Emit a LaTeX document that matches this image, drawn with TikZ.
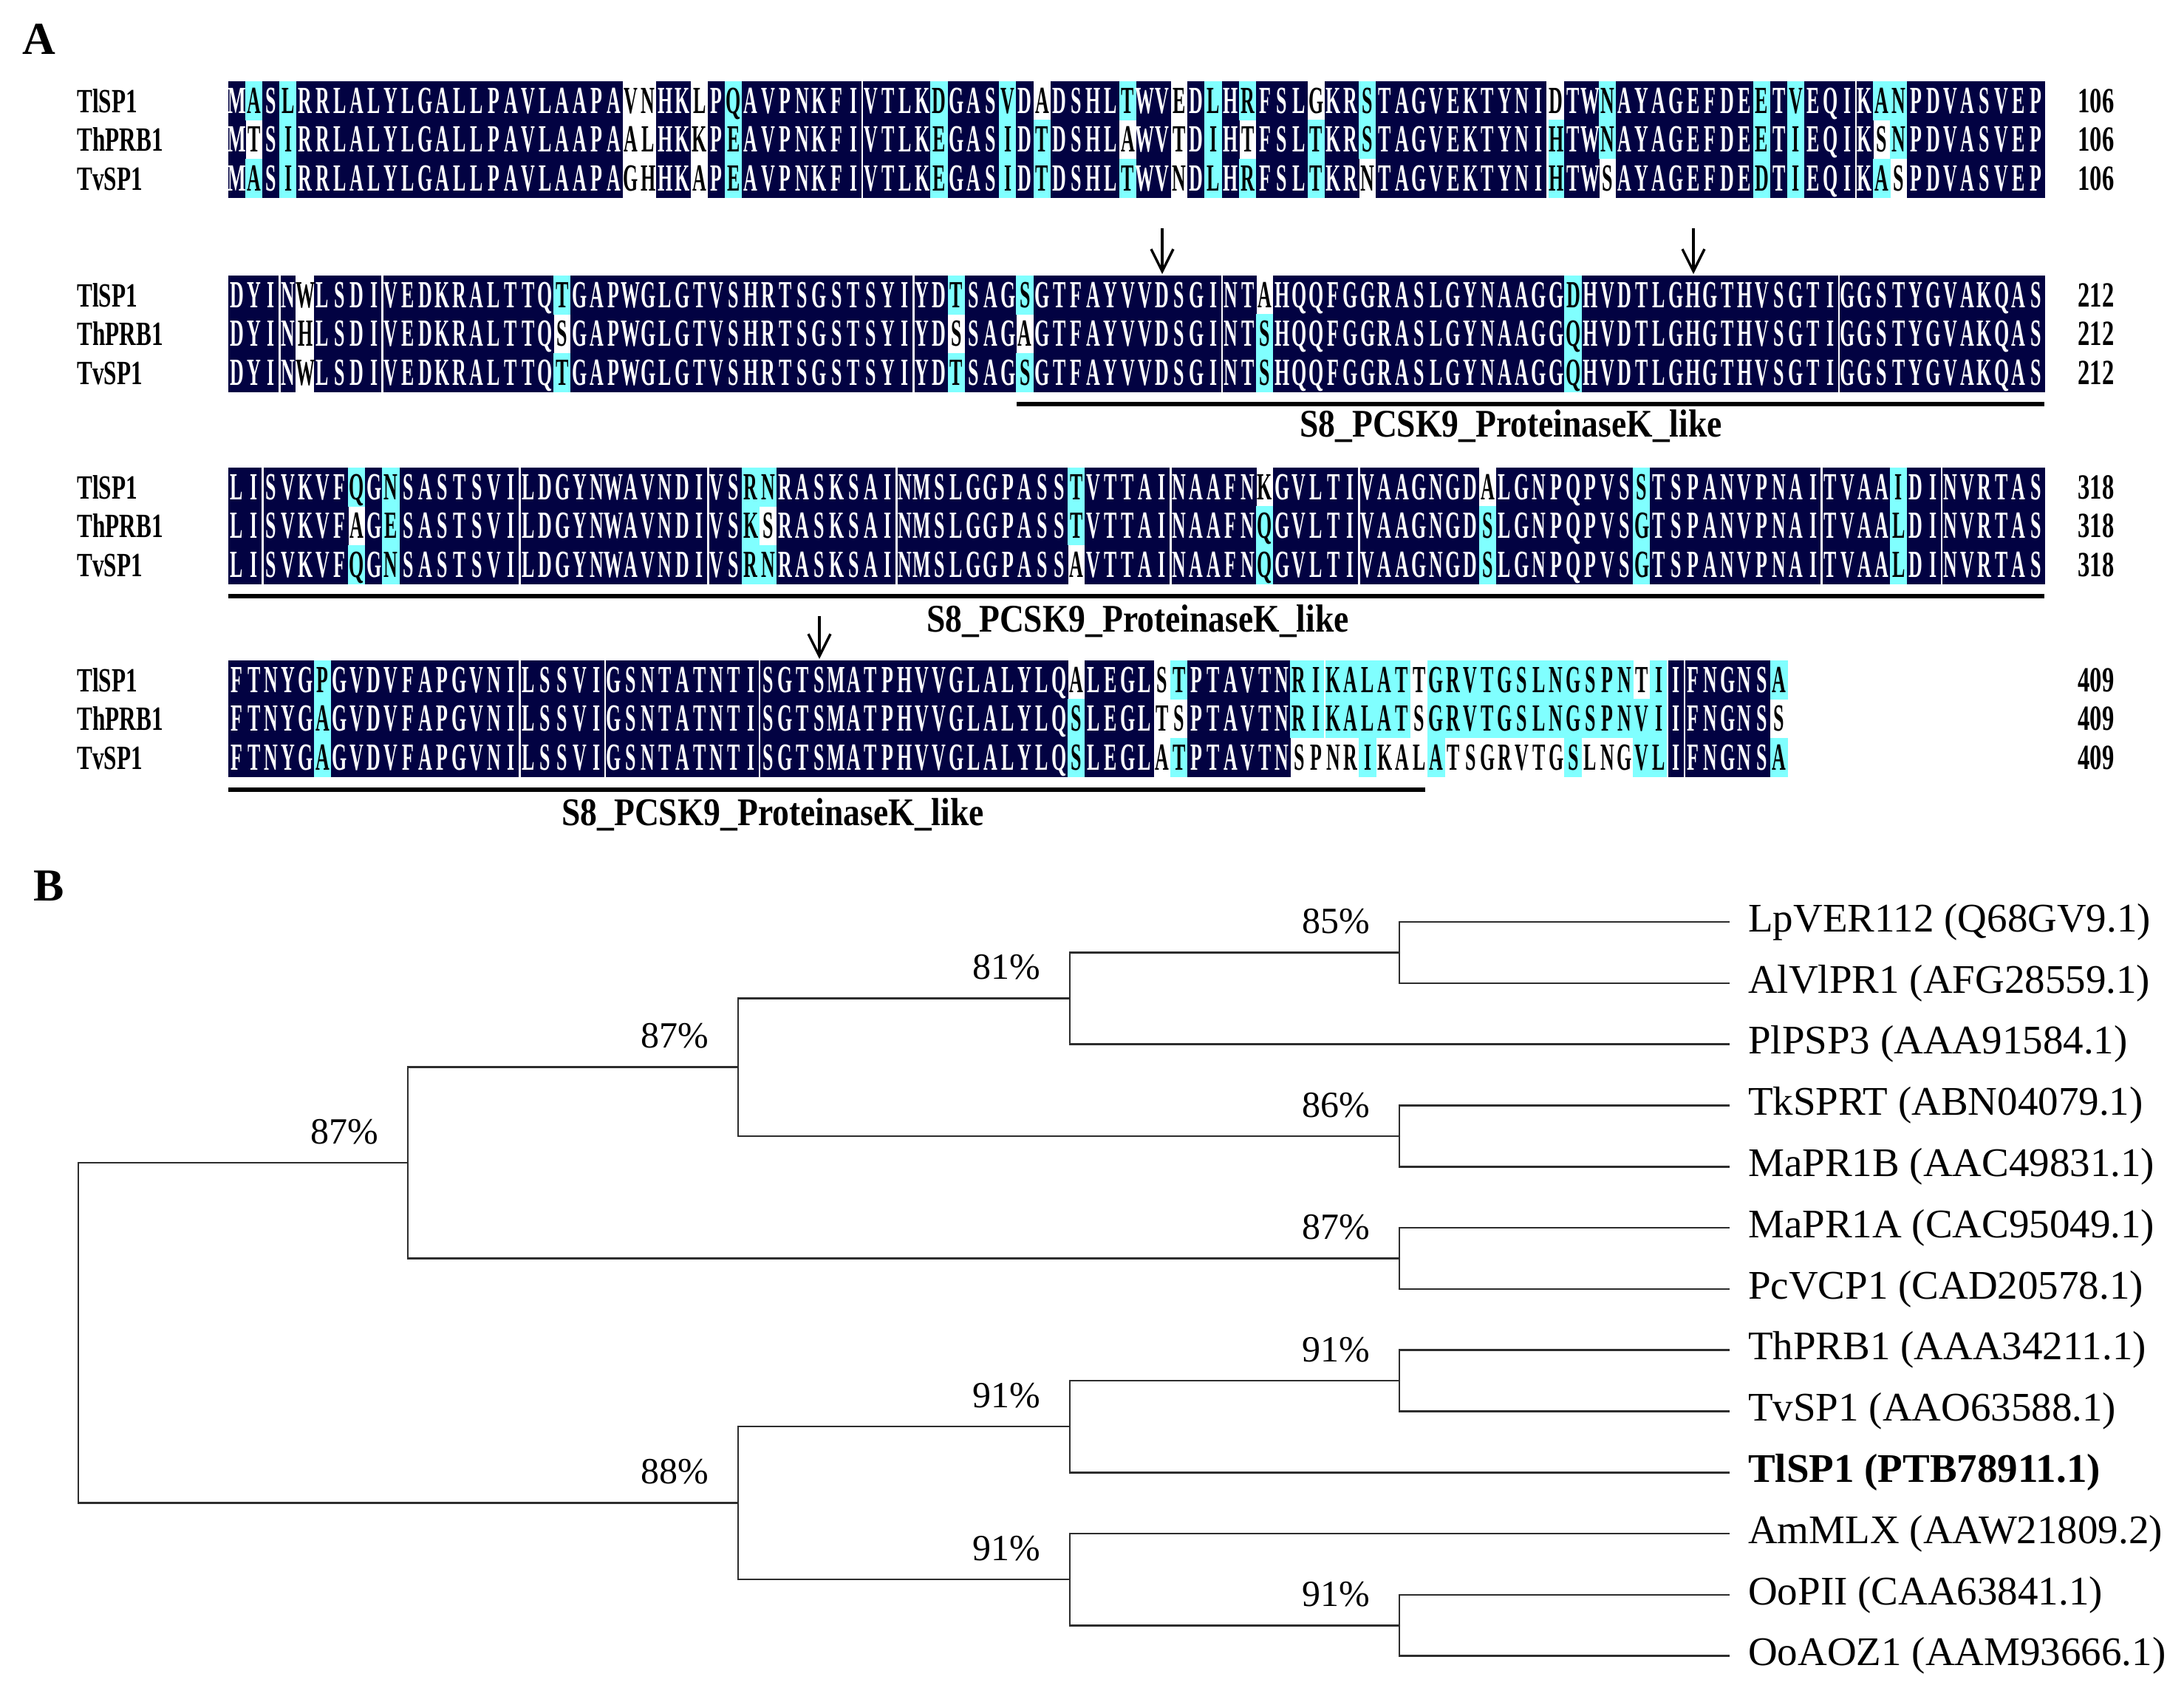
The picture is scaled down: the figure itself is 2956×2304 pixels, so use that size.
\documentclass[tikz,border=0pt]{standalone}
\usepackage{fontspec}
\setmainfont{Liberation Serif}
\newfontfamily\seqfont[FakeStretch=0.5]{Liberation Serif}
\newfontfamily\namefont[FakeStretch=0.68]{Liberation Serif}
\newfontfamily\numfont[FakeStretch=0.68]{Liberation Serif}
\newfontfamily\lblfont[FakeStretch=0.86]{Liberation Serif}
\usetikzlibrary{arrows.meta}
\definecolor{alndark}{RGB}{2,2,66}
\definecolor{alncyan}{RGB}{128,255,255}
\definecolor{treeln}{RGB}{45,45,45}
\newcommand\alnfill[5]{\fill[#1] (#2,#3) rectangle (#4,#5);}
\newcommand\alnsep[3]{\draw[white,line width=2.6pt] (#1,#2) -- (#1,#3);}
\newcommand\alnch[2]{\makebox[23.19pt][c]{\color{#1}#2}}
\newcommand\alnrowtext[4]{\node[anchor=base west,inner sep=0pt,outer sep=0pt] (#1) at (#2,#3) {\seqfont\bfseries\fontsize{52}{60}\selectfont #4};}
\ExplSyntaxOn
\str_new:N \l__aln_a_str
\str_new:N \l__aln_b_str
\str_new:N \l__aln_c_str
\tl_new:N \l__aln_xa_tl
\tl_new:N \l__aln_xb_tl
\tl_new:N \l__aln_xc_tl
\tl_new:N \l__aln_ua_tl
\tl_new:N \l__aln_ub_tl
\tl_new:N \l__aln_uc_tl
\bool_new:N \l__aln_la_bool
\bool_new:N \l__aln_lb_bool
\bool_new:N \l__aln_lc_bool
\tl_new:N \l__aln_ta_tl
\tl_new:N \l__aln_tb_tl
\tl_new:N \l__aln_tc_tl
\fp_new:N \l__aln_x_fp
\fp_new:N \l__aln_top_fp
\fp_const:Nn \c__aln_cw_fp { 23.19 }
\fp_const:Nn \c__aln_xo_fp { 309 }
\fp_const:Nn \c__aln_rh_fp { 52.5 }
\cs_new_protected:Npn \__aln_get:nNNNN #1 #2 #3 #4 #5
  {
    \tl_set:Nx #3 { \str_item:Nn #2 { #1 } }
    \use:x
      {
        \exp_not:N \tex_uppercase:D
          { \exp_not:N \tl_set:Nn \exp_not:N #4 { #3 } }
      }
    \tl_if_eq:NNTF #3 #4
      { \bool_set_false:N #5 }
      { \bool_set_true:N #5 }
  }
\cs_new_protected:Npn \__aln_fill:nnn #1 #2 #3
  {
    \use:x
      {
        \exp_not:N \alnfill { #3 }
          { \fp_eval:n { \l__aln_x_fp - 0.35 } }
          { \fp_eval:n { \l__aln_top_fp + #1 * \c__aln_rh_fp - 0.35 } }
          { \fp_eval:n { \l__aln_x_fp + \c__aln_cw_fp + 0.35 } }
          { \fp_eval:n { \l__aln_top_fp + #2 * \c__aln_rh_fp + 0.35 } }
      }
  }
\cs_new_protected:Npn \__aln_text:nnN #1 #2 #3
  {
    \use:x
      {
        \exp_not:N \alnrowtext { #1 }
          { \fp_eval:n { \c__aln_xo_fp } }
          { \fp_eval:n { \l__aln_top_fp + ( #2 + 0.5 ) * \c__aln_rh_fp + 17 } }
          { \exp_not:V #3 }
      }
  }
\NewDocumentCommand \alnblock { m m m m m m }
  {
    \fp_set:Nn \l__aln_top_fp { #2 }
    \str_set:Nn \l__aln_a_str { #3 }
    \str_set:Nn \l__aln_b_str { #4 }
    \str_set:Nn \l__aln_c_str { #5 }
    \tl_clear:N \l__aln_ta_tl
    \tl_clear:N \l__aln_tb_tl
    \tl_clear:N \l__aln_tc_tl
    \int_step_inline:nn { \str_count:N \l__aln_a_str }
      {
        \__aln_get:nNNNN { ##1 } \l__aln_a_str \l__aln_xa_tl \l__aln_ua_tl \l__aln_la_bool
        \__aln_get:nNNNN { ##1 } \l__aln_b_str \l__aln_xb_tl \l__aln_ub_tl \l__aln_lb_bool
        \__aln_get:nNNNN { ##1 } \l__aln_c_str \l__aln_xc_tl \l__aln_uc_tl \l__aln_lc_bool
        \fp_set:Nn \l__aln_x_fp { \c__aln_xo_fp + ( ##1 - 1 ) * \c__aln_cw_fp }
        \bool_lazy_all:nTF
          {
            { ! \l__aln_la_bool }
            { ! \l__aln_lb_bool }
            { ! \l__aln_lc_bool }
            { \tl_if_eq_p:NN \l__aln_ua_tl \l__aln_ub_tl }
            { \tl_if_eq_p:NN \l__aln_ub_tl \l__aln_uc_tl }
          }
          {
            \__aln_fill:nnn { 0 } { 3 } { alndark }
            \tl_put_right:Nx \l__aln_ta_tl { \exp_not:N \alnch { white } { \l__aln_ua_tl } }
            \tl_put_right:Nx \l__aln_tb_tl { \exp_not:N \alnch { white } { \l__aln_ub_tl } }
            \tl_put_right:Nx \l__aln_tc_tl { \exp_not:N \alnch { white } { \l__aln_uc_tl } }
          }
          {
            \bool_if:NF \l__aln_la_bool { \__aln_fill:nnn { 0 } { 1 } { alncyan } }
            \bool_if:NF \l__aln_lb_bool { \__aln_fill:nnn { 1 } { 2 } { alncyan } }
            \bool_if:NF \l__aln_lc_bool { \__aln_fill:nnn { 2 } { 3 } { alncyan } }
            \tl_put_right:Nx \l__aln_ta_tl { \exp_not:N \alnch { black } { \l__aln_ua_tl } }
            \tl_put_right:Nx \l__aln_tb_tl { \exp_not:N \alnch { black } { \l__aln_ub_tl } }
            \tl_put_right:Nx \l__aln_tc_tl { \exp_not:N \alnch { black } { \l__aln_uc_tl } }
          }
      }
    \clist_map_inline:nn { #6 }
      {
        \use:x
          {
            \exp_not:N \alnsep
              { \fp_eval:n { \c__aln_xo_fp + ##1 * \c__aln_cw_fp } }
              { \fp_eval:n { \l__aln_top_fp } }
              { \fp_eval:n { \l__aln_top_fp + 3 * \c__aln_rh_fp } }
          }
      }
    \__aln_text:nnN { #1r1 } { 0 } \l__aln_ta_tl
    \__aln_text:nnN { #1r2 } { 1 } \l__aln_tb_tl
    \__aln_text:nnN { #1r3 } { 2 } \l__aln_tc_tl
  }
\ExplSyntaxOff
\tikzset{
  seqname/.style={anchor=base west,inner sep=0pt,font=\namefont\bfseries\fontsize{46}{52}\selectfont},
  seqnum/.style={anchor=base,inner sep=0pt,font=\numfont\bfseries\fontsize{48}{54}\selectfont},
  domline/.style={line width=6.5pt,black},
  domlabel/.style={inner sep=0pt,font=\lblfont\bfseries\fontsize{53}{60}\selectfont},
  sitearrow/.style={line width=3.4pt,-{Straight Barb[length=30pt,width=30pt,line width=3.4pt]}},
  panel/.style={anchor=center,inner sep=0pt,font=\bfseries\fontsize{62}{70}\selectfont},
  leaf/.style={anchor=west,inner xsep=26pt,inner ysep=0pt,font=\fontsize{55}{64}\selectfont},
  pct/.style={inner sep=0pt,xshift=-86pt,yshift=42pt,font=\fontsize{50}{60}\selectfont},
  branch/.style={line width=2.6pt,treeln,line cap=rect},
}
\begin{document}
\begin{tikzpicture}[x=1pt,y=-1pt]
\useasboundingbox (0,0) rectangle (2956,2304);
\fill[white] (0,0) rectangle (2956,2304);
% ---------------- Panel A ----------------
\node[panel] (pA) at (53,53) {A};
% block 1
\alnblock{bA}{110}
{MASLRRLALYLGALLPAVLAAPAvnHKlPQAVPNKFIVTLKDGASVDaDSHLTWVeDLHRFSLgKRSTAGVEKTYNIdTWNAYAGEFDEETVEQIKANPDVASVEP}
{MtSIRRLALYLGALLPAVLAAPAalHKkPEAVPNKFIVTLKEGASIDTDSHLaWVtDIHtFSLTKRSTAGVEKTYNIHTWNAYAGEFDEETIEQIKsNPDVASVEP}
{MASIRRLALYLGALLPAVLAAPAghHKaPEAVPNKFIVTLKEGASIDTDSHLTWVnDLHRFSLTKRnTAGVEKTYNIHTWsAYAGEFDEDTIEQIKAsPDVASVEP}
{37,77,95}
% block 2
\alnblock{bB}{373}
{DYINwLSDIVEDKRALTTQTGAPWGLGTVSHRTSGSTSYIYDTSAGSGTFAYVVDSGINTaHQQFGGRASLGYNAAGGDHVDTLGHGTHVSGTIGGSTYGVAKQAS}
{DYINhLSDIVEDKRALTTQsGAPWGLGTVSHRTSGSTSYIYDsSAGaGTFAYVVDSGINTSHQQFGGRASLGYNAAGGQHVDTLGHGTHVSGTIGGSTYGVAKQAS}
{DYINwLSDIVEDKRALTTQTGAPWGLGTVSHRTSGSTSYIYDTSAGSGTFAYVVDSGINTSHQQFGGRASLGYNAAGGQHVDTLGHGTHVSGTIGGSTYGVAKQAS}
{3,4,9,40,58,94}
% block 3
\alnblock{bC}{633}
{LISVKVFQGNSASTSVILDGYNWAVNDIVSRNRASKSAINMSLGGPASSTVTTAINAAFNkGVLTIVAAGNGDaLGNPQPVSSTSPANVPNAITVAAIDINVRTAS}
{LISVKVFaGESASTSVILDGYNWAVNDIVSKsRASKSAINMSLGGPASSTVTTAINAAFNQGVLTIVAAGNGDSLGNPQPVSGTSPANVPNAITVAALDINVRTAS}
{LISVKVFQGNSASTSVILDGYNWAVNDIVSRNRASKSAINMSLGGPASSaVTTAINAAFNQGVLTIVAAGNGDSLGNPQPVSGTSPANVPNAITVAALDINVRTAS}
{2,17,28,39,55,66,93,100}
% block 4
\alnblock{bD}{894}
{FTNYGPGVDVFAPGVNILSSVIGSNTATNTISGTSMATPHVVGLALYLQaLEGLsTPTAVTNRIKALATtGRVTGSLNGSPNtIIFNGNSA}
{FTNYGAGVDVFAPGVNILSSVIGSNTATNTISGTSMATPHVVGLALYLQSLEGLtsPTAVTNRIKALATsGRVTGSLNGSPNVIIFNGNSs}
{FTNYGAGVDVFAPGVNILSSVIGSNTATNTISGTSMATPHVVGLALYLQSLEGLaTPTAVTNspnrIkalAtsgrvtgSlngVLIFNGNSA}
{17,22,31,64,84,85}
% sequence names and numbers
\foreach \blk/\top/\num in {A/110/106,B/373/212,C/633/318,D/894/409}{
  \node[seqname] (nm\blk1) at (104,\top+26.25+16) {TlSP1};
  \node[seqname] (nm\blk2) at (104,\top+78.75+16) {ThPRB1};
  \node[seqname] (nm\blk3) at (104,\top+131.25+16) {TvSP1};
  \node[seqnum] (nu\blk1) at (2837,\top+26.25+16) {\num};
  \node[seqnum] (nu\blk2) at (2837,\top+78.75+16) {\num};
  \node[seqnum] (nu\blk3) at (2837,\top+131.25+16) {\num};
}
% catalytic site arrows
\coordinate (ar1s) at (1573,309); \coordinate (ar1e) at (1573,371);
\coordinate (ar2s) at (2292,309); \coordinate (ar2e) at (2292,371);
\coordinate (ar3s) at (1109,834); \coordinate (ar3e) at (1109,892);
\draw[sitearrow] (ar1s) -- (ar1e);
\draw[sitearrow] (ar2s) -- (ar2e);
\draw[sitearrow] (ar3s) -- (ar3e);
% domain underlines
\coordinate (u2s) at (1376,547); \coordinate (u2e) at (2767,547);
\coordinate (u3s) at (309,807); \coordinate (u3e) at (2767,807);
\coordinate (u4s) at (309,1069); \coordinate (u4e) at (1929,1069);
\draw[domline] (u2s) -- (u2e);
\draw[domline] (u3s) -- (u3e);
\draw[domline] (u4s) -- (u4e);
\node[domlabel] (dl2) at (2045,577) {S8\_PCSK9\_ProteinaseK\_like};
\node[domlabel] (dl3) at (1540,841) {S8\_PCSK9\_ProteinaseK\_like};
\node[domlabel] (dl4) at (1046,1103) {S8\_PCSK9\_ProteinaseK\_like};
% ---------------- Panel B ----------------
\node[panel] (pB) at (66,1199) {B};
\node[leaf] (l1) at (2340,1248) {LpVER112 (Q68GV9.1)};
\node[leaf] (l2) at (2340,1330.8) {AlVlPR1 (AFG28559.1)};
\node[leaf] (l3) at (2340,1413.6) {PlPSP3 (AAA91584.1)};
\node[leaf] (l4) at (2340,1496.4) {TkSPRT (ABN04079.1)};
\node[leaf] (l5) at (2340,1579.2) {MaPR1B (AAC49831.1)};
\node[leaf] (l6) at (2340,1662) {MaPR1A (CAC95049.1)};
\node[leaf] (l7) at (2340,1744.8) {PcVCP1 (CAD20578.1)};
\node[leaf] (l8) at (2340,1827.6) {ThPRB1 (AAA34211.1)};
\node[leaf] (l9) at (2340,1910.4) {TvSP1 (AAO63588.1)};
\node[leaf] (l10) at (2340,1993.2) {\bfseries TlSP1 (PTB78911.1)};
\node[leaf] (l11) at (2340,2076) {AmMLX (AAW21809.2)};
\node[leaf] (l12) at (2340,2158.8) {OoPII (CAA63841.1)};
\node[leaf] (l13) at (2340,2241.6) {OoAOZ1 (AAM93666.1)};
\coordinate (n85) at (1894,1289.4);
\coordinate (n81) at (1448,1351.5);
\coordinate (n86) at (1894,1537.8);
\coordinate (n87a) at (999,1444.65);
\coordinate (n87b) at (1894,1703.4);
\coordinate (n87c) at (552,1574.03);
\coordinate (n91a) at (1894,1869);
\coordinate (n91b) at (1448,1931.1);
\coordinate (n91c) at (1894,2200.2);
\coordinate (n91d) at (1448,2138.1);
\coordinate (n88) at (999,2034.6);
\coordinate (root) at (106,1804.3);
\draw[branch] (l1.west) -| (n85) |- (l2.west);
\draw[branch] (n85) -| (n81) |- (l3.west);
\draw[branch] (l4.west) -| (n86) |- (l5.west);
\draw[branch] (n81) -| (n87a) |- (n86);
\draw[branch] (l6.west) -| (n87b) |- (l7.west);
\draw[branch] (n87a) -| (n87c) |- (n87b);
\draw[branch] (l8.west) -| (n91a) |- (l9.west);
\draw[branch] (n91a) -| (n91b) |- (l10.west);
\draw[branch] (l12.west) -| (n91c) |- (l13.west);
\draw[branch] (l11.west) -| (n91d) |- (n91c);
\draw[branch] (n91b) -| (n88) |- (n91d);
\draw[branch] (n87c) -| (root) |- (n88);
\node[pct] (p85) at (n85) {85\%};
\node[pct] (p81) at (n81) {81\%};
\node[pct] (p86) at (n86) {86\%};
\node[pct] (p87a) at (n87a) {87\%};
\node[pct] (p87b) at (n87b) {87\%};
\node[pct] (p87c) at (n87c) {87\%};
\node[pct] (p91a) at (n91a) {91\%};
\node[pct] (p91b) at (n91b) {91\%};
\node[pct] (p91c) at (n91c) {91\%};
\node[pct] (p91d) at (n91d) {91\%};
\node[pct] (p88) at (n88) {88\%};
\end{tikzpicture}
\end{document}
